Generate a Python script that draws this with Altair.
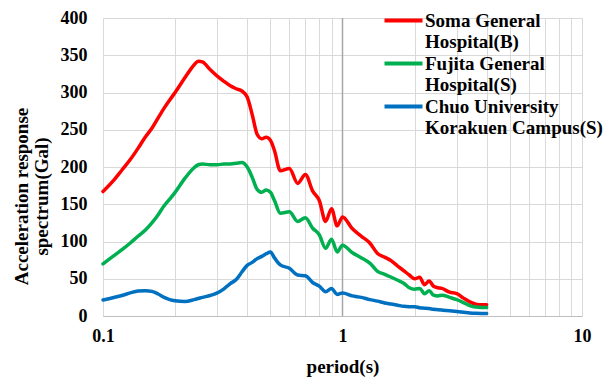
import altair as alt
import pandas as pd

# Natural periods (s) at which the spectra are sampled
periods = [0.1, 0.11, 0.12, 0.13, 0.14, 0.15, 0.16, 0.17, 0.18, 0.19,
           0.2, 0.22, 0.24, 0.25, 0.26, 0.28, 0.3, 0.32, 0.34, 0.36,
           0.38, 0.4, 0.42, 0.44, 0.46, 0.48, 0.5, 0.52, 0.55, 0.6,
           0.65, 0.7, 0.75, 0.8, 0.85, 0.9, 0.95, 1.0, 1.1, 1.2,
           1.3, 1.4, 1.5, 1.6, 1.7, 1.8, 1.9, 2.0, 2.1, 2.2,
           2.3, 2.4, 2.5, 2.6, 2.8, 3.0, 3.2, 3.4, 3.6, 3.8, 4.0]

# Acceleration response spectra (Gal)
soma = [167, 181, 196, 210, 225, 240, 252, 266, 279, 290,
        300, 320, 337, 342, 341, 331, 322, 315, 309, 305,
        302, 294, 270, 244, 238, 240, 236, 222, 195, 198,
        178, 190, 168, 155, 127, 144, 121, 133, 117, 107,
        98, 84, 79, 74, 67, 61, 55, 50, 52, 42,
        47, 40, 38, 37, 32, 30, 24, 19, 16, 15, 15]
fujita = [70, 80, 89, 98, 107, 115, 125, 136, 148, 157,
          166, 185, 199, 203, 204, 203, 203, 204, 204, 205,
          206, 200, 186, 170, 166, 169, 166, 155, 138, 140,
          127, 132, 118, 109, 91, 103, 86, 95, 85, 78,
          71, 60, 56, 52, 48, 44, 38, 36, 37, 30,
          34, 28, 27, 28, 25, 22, 18, 14, 12, 11.5, 11.5]
chuo = [21.5, 24.5, 27.5, 31, 33.5, 34, 33, 29.5, 25, 22,
        20.5, 19.5, 22, 23.5, 25, 27.5, 31, 36.5, 43.5, 49,
        59, 68, 72, 77, 80, 83.5, 86, 78, 68.5, 64,
        55, 54, 45, 40, 32.5, 37, 29, 31, 27, 25,
        22, 20, 17.5, 16, 14.5, 13, 12.5, 12.5, 11, 10.5,
        10, 9, 8.5, 8, 7, 6, 5, 4, 3.6, 3.5, 3.5]

series_names = ["Soma General\nHospital(B)",
                "Fujita General\nHospital(S)",
                "Chuo University\nKorakuen Campus(S)"]
series_colors = ["#FF0000", "#00B050", "#0070C0"]

x_grid = [0.1, 0.2, 0.3, 0.4, 0.5, 0.6, 0.7, 0.8, 0.9,
          1, 2, 3, 4, 5, 6, 7, 8, 9, 10]
y_ticks = [0, 50, 100, 150, 200, 250, 300, 350, 400]
y_axis_cross = [1]

rows = []
for name, vals in zip(series_names, [soma, fujita, chuo]):
    for p, v in zip(periods, vals):
        rows.append({"period": p, "value": v, "site": name})
df = pd.DataFrame(rows)

FONT = "Liberation Serif"

x_scale = alt.Scale(type="log", domain=[0.1, 10], nice=False)
y_scale = alt.Scale(domain=[0, 400], nice=False)

lines = alt.Chart(df).mark_line(
    strokeWidth=3.5, interpolate="monotone", strokeCap="round", strokeJoin="round"
).encode(
    x=alt.X("period:Q", scale=x_scale,
            axis=alt.Axis(values=x_grid, title="period(s)",
                          labelExpr="(datum.value == 0.1 || datum.value == 1 || datum.value == 10) ? datum.label : ''",
                          format="~g", ticks=False, domain=True,
                          domainColor="#bfbfbf", domainWidth=1,
                          gridColor="#d9d9d9", gridWidth=1,
                          labelPadding=11, titlePadding=12,
                          labelFlush=False)),
    y=alt.Y("value:Q", scale=y_scale,
            axis=alt.Axis(values=y_ticks,
                          title=["Acceleration response", "spectrum(Gal)"],
                          titleAngle=-90, titleX=-82, titleY=178,
                          titleAlign="center", titleBaseline="middle",
                          titleLineHeight=20,
                          ticks=False, domain=False,
                          gridColor="#d9d9d9", gridWidth=1,
                          labelPadding=16)),
    color=alt.Color("site:N",
                    scale=alt.Scale(domain=series_names, range=series_colors),
                    legend=alt.Legend(title=None, orient="none",
                                      legendX=289, legendY=-9,
                                      symbolType="M-2,0L2,0", symbolSize=361,
                                      symbolStrokeWidth=4, labelOffset=10,
                                      labelExpr="split(datum.label, '\\n')",
                                      labelFont=FONT, labelFontSize=19,
                                      labelFontWeight="bold", labelColor="#000000",
                                      labelLimit=300, labelBaseline="middle",
                                      rowPadding=-4, padding=0)),
)

cross = alt.Chart(pd.DataFrame({"period": y_axis_cross})).mark_rule(
    color="#a6a6a6", strokeWidth=1.5
).encode(x=alt.X("period:Q", scale=x_scale))

chart = alt.layer(cross, lines).properties(
    width=479, height=298,
    padding={"left": 103, "top": 18, "right": 27, "bottom": 61},
    autosize=alt.AutoSizeParams(type="none"),
).configure_view(
    stroke="transparent"
).configure_axis(
    labelFont=FONT, labelFontSize=18, labelFontWeight="bold", labelColor="#000000",
    titleFont=FONT, titleFontSize=19, titleFontWeight="bold", titleColor="#000000",
)

chart.save("out.html", embed_options={"renderer": "svg", "actions": False})
